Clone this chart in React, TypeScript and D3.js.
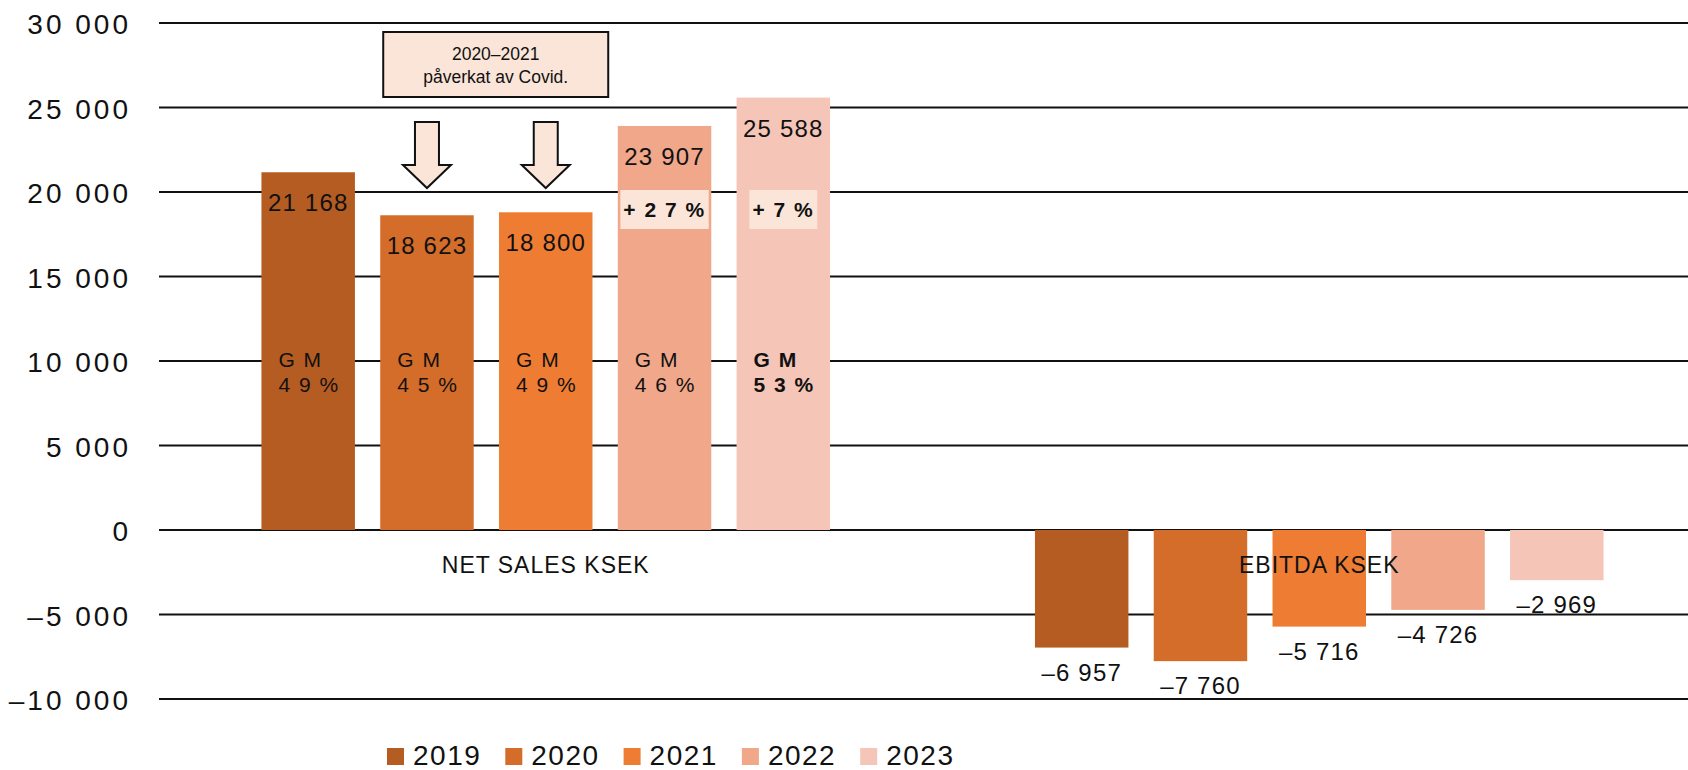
import { useRef, useEffect } from "react";
import * as d3 from "d3";

// chart data
const years = ["2019", "2020", "2021", "2022", "2023"];
const yearColors = ["#B45C22", "#D46C2A", "#EE7D33", "#F0A78A", "#F5C6B8"];
const groups = ["NET SALES KSEK", "EBITDA KSEK"];
const netSales = [21168, 18623, 18800, 23907, 25588];
const ebitda = [-6957, -7760, -5716, -4726, -2969];
const grossMargin = [49, 45, 49, 46, 53];
const growth: (number | null)[] = [null, null, null, 27, 7];
const yTicks = [-10000, -5000, 0, 5000, 10000, 15000, 20000, 25000, 30000];
const covidYears = ["2020", "2021"];
const noteLines = ["2020–2021", "påverkat av Covid."];

const WIDTH = 1688;
const HEIGHT = 770;
const FONT = "'Liberation Sans', Arial, sans-serif";
const NOTE_FILL = "#FAE5D8";
const INK = "#111";

const locale = d3.formatLocale({
  decimal: ",",
  thousands: " ",
  grouping: [3],
  currency: ["", " kr"],
  minus: "–",
});
const fmt = locale.format(",d");
const spaced = (n: number) => String(n).split("").join(" ");

const App = () => {
  const svgRef = useRef<SVGSVGElement>(null);

  useEffect(() => {
    const svg = d3.select(svgRef.current);
    svg.selectAll("*").remove();

    const y = d3.scaleLinear().domain([-10000, 30000]).range([699, 23]);
    const x0 = d3.scaleBand().domain(groups).range([159, 1706]);
    const x1 = d3
      .scaleBand()
      .domain(years)
      .range([0, x0.bandwidth()])
      .paddingInner(0.213)
      .paddingOuter(0.8625);
    const bw = x1.bandwidth();
    const barX = (g: string, yr: string) => (x0(g) as number) + (x1(yr) as number);

    // gridlines + y labels
    svg
      .append("g")
      .selectAll("line")
      .data(yTicks)
      .enter()
      .append("line")
      .attr("x1", 159)
      .attr("x2", WIDTH)
      .attr("y1", (d) => y(d))
      .attr("y2", (d) => y(d))
      .style("stroke", INK)
      .style("stroke-width", 2);

    svg
      .append("g")
      .selectAll("text")
      .data(yTicks)
      .enter()
      .append("text")
      .attr("x", 131)
      .attr("y", (d) => y(d) + 11)
      .attr("text-anchor", "end")
      .style("font-family", FONT)
      .style("font-size", "28px")
      .style("letter-spacing", "3px")
      .style("fill", INK)
      .text((d) => fmt(d));

    const series = [
      { group: groups[0], values: netSales },
      { group: groups[1], values: ebitda },
    ];

    // bars
    series.forEach((s) => {
      svg
        .append("g")
        .selectAll("rect")
        .data(s.values)
        .enter()
        .append("rect")
        .attr("x", (_, i) => barX(s.group, years[i]))
        .attr("y", (d) => Math.min(y(d), y(0)))
        .attr("width", bw)
        .attr("height", (d) => Math.abs(y(d) - y(0)))
        .attr("fill", (_, i) => yearColors[i]);
    });

    // net sales value labels
    svg
      .append("g")
      .selectAll("text")
      .data(netSales)
      .enter()
      .append("text")
      .attr("x", (_, i) => barX(groups[0], years[i]) + bw / 2)
      .attr("y", (d) => y(d) + 39)
      .attr("text-anchor", "middle")
      .style("font-family", FONT)
      .style("font-size", "24px")
      .style("letter-spacing", "1.2px")
      .style("fill", INK)
      .text((d) => fmt(d));

    // ebitda value labels
    svg
      .append("g")
      .selectAll("text")
      .data(ebitda)
      .enter()
      .append("text")
      .attr("x", (_, i) => barX(groups[1], years[i]) + bw / 2)
      .attr("y", (d) => y(d) + 33)
      .attr("text-anchor", "middle")
      .style("font-family", FONT)
      .style("font-size", "24px")
      .style("letter-spacing", "1.2px")
      .style("fill", INK)
      .text((d) => fmt(d));

    // gross margin
    grossMargin.forEach((gm, i) => {
      const last = i === grossMargin.length - 1;
      const gx = barX(groups[0], years[i]) + 17;
      const t = svg
        .append("text")
        .style("font-family", FONT)
        .style("font-size", "21px")
        .style("font-weight", last ? "bold" : "normal")
        .style("letter-spacing", "1.5px")
        .style("fill", INK);
      t.append("tspan").attr("x", gx).attr("y", 367).text("G M");
      t.append("tspan").attr("x", gx).attr("y", 392).text(`${spaced(gm)} %`);
    });

    // growth boxes
    growth.forEach((g, i) => {
      if (g == null) return;
      const cx = barX(groups[0], years[i]) + bw / 2;
      const box = svg.append("g");
      const rect = box.append("rect").attr("fill", NOTE_FILL);
      const t = box
        .append("text")
        .attr("x", cx)
        .attr("y", 217)
        .attr("text-anchor", "middle")
        .style("font-family", FONT)
        .style("font-size", "21px")
        .style("font-weight", "bold")
        .style("letter-spacing", "1.5px")
        .style("fill", INK)
        .text(`+ ${spaced(g)} %`);
      const w = (t.node() as SVGTextElement).getComputedTextLength();
      rect
        .attr("x", cx - w / 2 - 3)
        .attr("y", 190)
        .attr("width", w + 6)
        .attr("height", 39);
    });

    // covid note
    const noteLeft = barX(groups[0], covidYears[0]) + 3;
    const noteW = 225;
    svg
      .append("rect")
      .attr("x", noteLeft)
      .attr("y", 32)
      .attr("width", noteW)
      .attr("height", 65)
      .attr("fill", NOTE_FILL)
      .attr("stroke", INK)
      .attr("stroke-width", 2);
    svg
      .append("g")
      .selectAll("text")
      .data(noteLines)
      .enter()
      .append("text")
      .attr("x", noteLeft + noteW / 2)
      .attr("y", (_, i) => 60 + i * 23)
      .attr("text-anchor", "middle")
      .style("font-family", FONT)
      .style("font-size", "17.5px")
      .style("fill", INK)
      .text((d) => d);

    // arrows
    covidYears.forEach((yr) => {
      const cx = barX(groups[0], yr) + bw / 2;
      const top = 122;
      const neck = 165;
      const tip = 188;
      const pts: [number, number][] = [
        [cx - 12, top],
        [cx + 12, top],
        [cx + 12, neck],
        [cx + 24, neck],
        [cx, tip],
        [cx - 24, neck],
        [cx - 12, neck],
      ];
      svg
        .append("path")
        .attr("d", (d3.line()(pts) as string) + "Z")
        .attr("fill", NOTE_FILL)
        .attr("stroke", INK)
        .attr("stroke-width", 2)
        .attr("stroke-linejoin", "miter");
    });

    // group labels
    svg
      .append("g")
      .selectAll("text")
      .data(groups)
      .enter()
      .append("text")
      .attr("x", (d) => (x0(d) as number) + x0.bandwidth() / 2)
      .attr("y", 573)
      .attr("text-anchor", "middle")
      .style("font-family", FONT)
      .style("font-size", "23px")
      .style("letter-spacing", "1px")
      .style("fill", INK)
      .text((d) => d);

    // legend
    let lx = 387;
    years.forEach((yr, i) => {
      svg
        .append("rect")
        .attr("x", lx)
        .attr("y", 748)
        .attr("width", 17)
        .attr("height", 17)
        .attr("fill", yearColors[i]);
      const t = svg
        .append("text")
        .attr("x", lx + 26)
        .attr("y", 765)
        .style("font-family", FONT)
        .style("font-size", "28px")
        .style("letter-spacing", "1.5px")
        .style("fill", INK)
        .text(yr);
      lx += 26 + (t.node() as SVGTextElement).getComputedTextLength() + 24;
    });
  }, []);

  return (
    <div style={{ position: "fixed", left: 0, top: 0, background: "#fff" }}>
      <svg ref={svgRef} width={WIDTH} height={HEIGHT}></svg>
    </div>
  );
};

export default App;
